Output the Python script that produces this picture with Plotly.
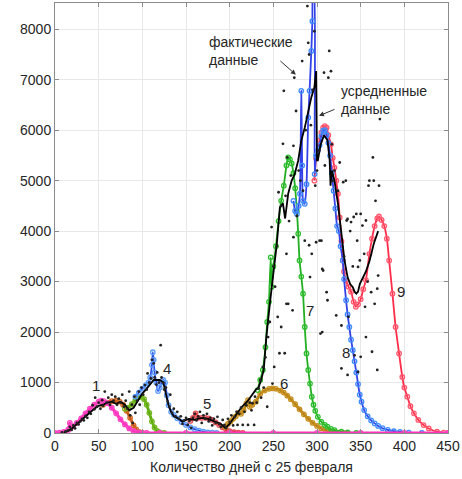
import plotly.graph_objects as go

# ---------------- data ----------------
# raw daily data (dots)
dots_x = [8,12,15,17,19,21,23,25,27,29,31,33,35,37,39,41,43,45,46,48,50,52,54,55,57,59,61,63,65,67,69,71,73,75,77,79,81,83,85,86,88,89,91,92,94,96,97,99,101,103,105,106,108,110,111,113,114,116,117,119,121,122,124,125,127,129,131,132,134,136,138,140,142,144,146,148,150,152,154,156,158,160,162,164,166,168,170,172,174,176,178,180,182,184,186,188,190,192,194,196,198,200,202,204,206,208,209,211,213,215,217,219,221,223,225,226,228,229,231,233,235,236,238,239,241,243,244,246,248,249,250,251,252,254,255,256,257,259,259,261,262,263,264,265,265,266,267,268,270,272,273,273,274,276,277,279,281,283,284,286,287,289,290,291,291,292,293,294,295,297,298,299,300,302,303,304,305,306,306,307,308,309,311,312,313,314,316,317,318,320,322,324,326,328,328,330,331,333,334,335,335,336,338,339,341,342,343,345,346,347,347,349,350,350,352,354,355,356,356,358,359,360,362,363,364,365,366,367,369,369,370,371,372]
dots_y = [10,30,50,120,60,150,90,200,170,230,280,250,340,300,420,380,550,470,700,520,600,480,650,540,820,600,700,560,760,640,720,560,680,600,760,520,640,480,820,350,560,200,720,400,640,820,560,900,760,950,860,1180,1000,1080,1450,1380,1100,960,1200,1000,1740,1100,1000,860,900,620,520,760,400,480,330,420,280,330,180,250,300,160,240,100,300,380,250,330,420,200,350,280,380,230,300,150,280,200,320,180,120,260,160,100,280,220,350,150,320,420,160,380,500,160,420,550,160,600,450,590,160,720,600,880,1050,700,1310,900,1500,520,1900,2200,4080,980,3300,1310,2900,3700,2300,4770,1580,2100,4500,5730,6780,1580,4700,2560,3550,5460,2560,4200,5100,2430,3880,5690,7040,6380,4300,5200,5000,7370,4800,3810,6000,8460,7730,3720,7500,3090,6100,3550,6800,7960,4900,3780,5200,5600,3810,1970,3810,2000,3250,3220,7140,5300,2790,2630,7040,7570,7170,5720,5000,5200,2330,4800,5360,2130,1280,4970,3500,5000,4210,1150,4240,2300,4000,4180,3300,4280,1540,4340,3810,3290,1210,3420,4340,1510,4110,3550,2500,4210,1900,3000,4900,5000,2790,1610,5460,5000,2560,4600,1250,2860,3120,4900,6220]

# averaged data (black line)
avg_x = [10,15,20,25,30,35,40,45,50,55,60,65,70,75,80,85,90,95,100,105,110,113,116,120,124,127,130,133,136,140,146,153,160,165,170,175,180,184,190,195,200,203,208,214,220,225,230,233,236,239,242,246,250,254,257.5,261,263.5,267,271,274.5,278.5,282,286,290,293.5,297,299,300,301,304,308,312,314.5,315.5,317,320,324,328,331.5,335,338,341,343,345,347,349,352,356,360,365,370]
avg_y = [10,40,100,180,250,320,400,480,540,560,600,620,580,620,560,450,500,650,780,880,1000,1050,1050,1050,1000,800,550,420,330,300,230,280,260,290,300,280,250,220,180,100,180,257,380,520,620,750,860,900,1050,1250,1900,2560,3220,3750,4470,4550,4250,4740,5000,5130,5400,5790,6050,6380,6650,6850,7170,5400,5400,5700,5900,5800,5400,4900,5200,5000,4540,3950,3420,3090,2950,2890,2800,2760,2800,2950,3050,3200,3400,3750,4000]

# model waves
w1_x = [0,5,10,15,16,17,18,20,25,30,35,40,45,50,53,56,60,65,70,75,80,85,90,95,100,105,120,150,200,250,300,350,400,450]
w1_y = [0,5,20,60,80,200,110,130,200,290,390,480,560,620,640,630,590,500,390,270,170,90,40,12,3,0,0,0,0,0,0,0,0,0]

w2_x = [55,60,65,70,74,78,82,86,90,93,96,100]
w2_y = [560,600,630,640,620,560,440,300,150,70,20,0]

w3_x = [80,84,88,92,96,99,102,105,108,111,114,117,120,125]
w3_y = [480,500,570,650,710,720,670,560,400,230,110,40,10,0]

w4_x = [92,96,100,104,107,109,111,112,113,114,116,118,120,122,124,126,128,130,133,136,140,145,150,155,160,165,170,175,180,185]
w4_y = [720,800,880,950,1000,1100,1350,1600,1450,1200,1000,830,900,1000,1050,1000,750,550,420,360,290,220,160,110,75,45,25,12,5,0]

w5_x = [155,158,161,164,168,172,176,180,184,188,192,196,200,205,210,215]
w5_y = [240,300,390,300,300,300,290,260,210,160,110,65,35,15,5,0]

w6_x = [195,198,201,204,207,210,213,216,219,221,223,226,230,235,240,245,249,253,258,262,266,270,275,280,285,290,295,300,305,310,315,320,325,330,335]
w6_y = [120,180,230,280,330,400,380,450,580,650,520,560,620,780,840,875,885,875,840,800,740,670,570,470,370,280,200,140,90,55,30,15,7,2,0]

w7_x = [232,235,238,241,243,245,247,248,250,253,256,259,262,265,267,269,271,273,275,277,278.5,280,282,284,286,288,290,292,294,296,298,301,305,309,312,316,320,328,335,345]
w7_y = [850,1050,1250,1700,2200,2600,3480,2900,3300,3700,4200,4600,4900,5300,5460,5420,5340,5150,4850,4400,3950,3420,3100,2760,2100,1575,1250,980,720,560,440,320,220,160,125,80,55,25,10,0]

w8_x = [273,275,277,279,280.5,282,283,284,286,288,290,291.5,293.5,294.7,295.5,296.5,297.3,299,301,303,305,307,309,311,313,315,317,319,321,323,325,327,329.5,331,333.3,335,337,339,341,343,345,347,349,351,354,358,362,366,370,375,381,388,395,405,420]
w8_y = [4600,4400,4340,4500,4740,6780,5300,4600,4540,4930,6250,6780,7570,8160,8800,8800,5130,5500,5600,5700,5880,5990,6000,5900,5750,5500,5150,4800,4450,4100,4000,3700,3420,3050,2630,2350,2100,1850,1640,1420,1200,970,760,620,455,330,250,190,140,95,60,35,20,8,0]

w9_x = [297,299,301,303,305,307,309,311,313,316,318,320,322,324,326,328,329.5,331,333,336,339,342,344.5,347,350,353,356,360,363,366,369,371,374,377,380,382.6,386.4,390,394,397.7,400,403.4,407,411,416,422,428,437.5,445,450]
w9_y = [5000,5450,5600,5800,5950,6050,6080,6050,5900,5720,5450,5260,5000,4740,4270,3800,3420,3200,3020,2900,2800,2600,2500,2550,2650,2850,3030,3550,3850,4100,4250,4290,4220,4100,3850,3420,2760,2100,1575,1110,900,720,530,390,260,158,90,25,8,0]

x_ticks = [0,50,100,150,200,250,300,350,400,450]
y_ticks = [0,1000,2000,3000,4000,5000,6000,7000,8000]

wave_labels = ["1","4","5","6","7","8","9"]
wave_label_x = [46.6,128,174,262.5,292,333,396.6]
wave_label_y = [949,1285,593,988,2431,1601,2806]

x_title = "Количество дней с 25 февраля"
note_actual = "фактические<br>данные"
note_avg = "усредненные<br>данные"

# ---------------- figure ----------------
fig = go.Figure()

def wave(x, y, line_color, marker_color, width=1.8, msize=4.5):
    fig.add_trace(go.Scatter(
        x=x, y=y, mode="lines+markers", line=dict(color=line_color, width=width, shape="spline", smoothing=0.6),
        marker=dict(symbol="circle-open", size=msize, color=marker_color, line=dict(width=1.3)),
        hoverinfo="skip"))

wave(w2_x, w2_y, "#c8561a", "#d2691e", 2.8)
wave(w3_x, w3_y, "#5fa80f", "#72b81e", 2.8)
wave(w4_x, w4_y, "#2f4fe0", "#5a9cff", 1.8)
wave(w5_x, w5_y, "#d8282f", "#e8505a", 2.8)
wave(w6_x, w6_y, "#b8821a", "#c8901a", 2.8)
wave(w7_x, w7_y, "#22b022", "#2fbf2f", 1.8)
wave(w9_x, w9_y, "#ff2d4a", "#ff5a70", 1.8)
wave(w8_x, w8_y, "#3343e8", "#3f8cff", 1.8)
wave(w1_x, w1_y, "#ff33bb", "#ff44c4", 3.2)

fig.add_trace(go.Scatter(x=avg_x, y=avg_y, mode="lines",
                         line=dict(color="#000000", width=1.8), hoverinfo="skip"))
fig.add_trace(go.Scatter(x=dots_x, y=dots_y, mode="markers",
                         marker=dict(color="#222222", size=2.8), hoverinfo="skip"))

font_main = "Arial, Liberation Sans, sans-serif"

for t, x, y in zip(wave_labels, wave_label_x, wave_label_y):
    fig.add_annotation(x=x, y=y, text=t, showarrow=False,
                       font=dict(size=15, color="#262626", family=font_main))

fig.add_annotation(x=174, y=7560, text=note_actual, showarrow=False, xanchor="left", yanchor="middle",
                   align="left", font=dict(size=14, color="#262626", family=font_main))
fig.add_annotation(x=325, y=6600, text=note_avg, showarrow=False, xanchor="left", yanchor="middle",
                   align="left", font=dict(size=14, color="#262626", family=font_main))
fig.add_annotation(x=275.8, y=7100, ax=-17, ay=-15, text="", showarrow=True,
                   arrowhead=2, arrowsize=1, arrowwidth=1, arrowcolor="#333333")
fig.add_annotation(x=302.3, y=6285, ax=17, ay=-7, text="", showarrow=True,
                   arrowhead=2, arrowsize=1, arrowwidth=1, arrowcolor="#333333")

axis_common = dict(showgrid=True, gridcolor="#e8e8e8", gridwidth=1, zeroline=False,
                   showline=True, linecolor="#8c8c8c", linewidth=1, mirror="ticks",
                   ticks="inside", ticklen=4, tickcolor="#8c8c8c",
                   ticklabeloverflow="allow",
                   tickfont=dict(size=14, color="#262626", family=font_main))

fig.update_xaxes(range=[0, 450], tickvals=x_ticks, ticktext=[str(v) for v in x_ticks],
                 title=dict(text=x_title, font=dict(size=14, color="#262626", family=font_main), standoff=9),
                 **axis_common)
fig.update_yaxes(range=[0, 8520], tickvals=y_ticks, ticktext=[str(v) for v in y_ticks],
                 **axis_common)

fig.update_layout(width=462, height=479, margin=dict(l=55, r=11, t=2, b=46),
                  paper_bgcolor="white", plot_bgcolor="white", showlegend=False,
                  font=dict(family=font_main))

fig.write_html("out.html")
